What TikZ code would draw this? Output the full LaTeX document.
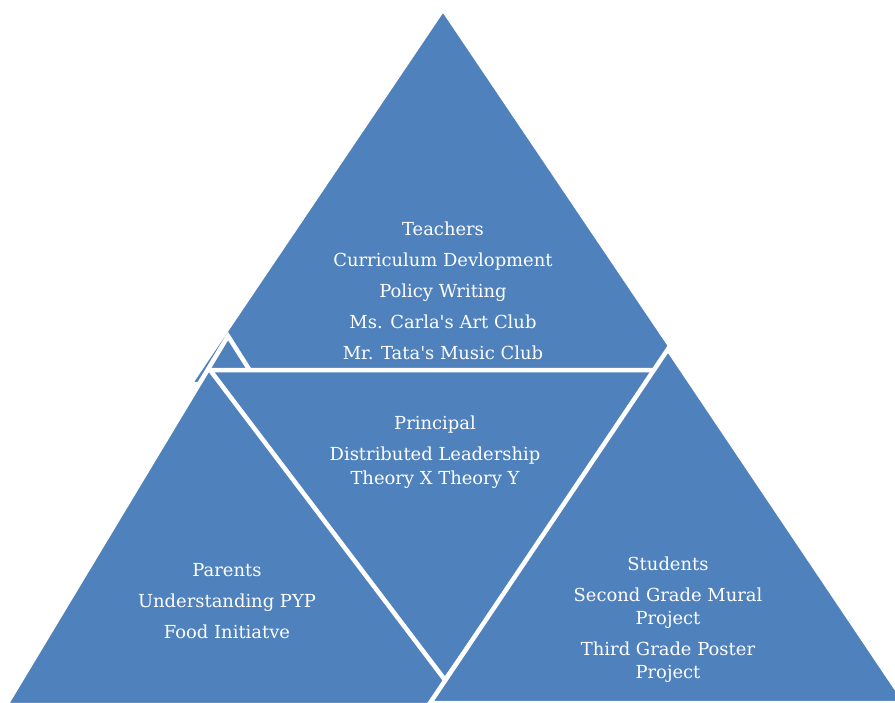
\documentclass[tikz,border=0pt]{standalone}
\usepackage{fontspec}
\setmainfont{DejaVu Serif}
\definecolor{pyrblue}{HTML}{4F81BD}
\tikzset{
  seg/.style={fill=pyrblue, draw=white, line width=4.5bp, line join=miter},
  lbl/.style={text=white, anchor=base, inner sep=0pt, font=\fontsize{18}{21}\selectfont}
}
\begin{document}
\begin{tikzpicture}[x=1bp,y=-1bp]
  \useasboundingbox (0,0) rectangle (895,703);
  \clip (0,0) rectangle (895,703);
  % corners of the four segments
  \coordinate (top) at (443,9);
  \coordinate (topl) at (190,384);
  \coordinate (topr) at (696,384);
  \coordinate (left) at (228,336);
  \coordinate (leftl) at (6,705);
  \coordinate (leftr) at (462,705);
  \coordinate (mid) at (445,680);
  \coordinate (midl) at (210,370);
  \coordinate (midr) at (660,370);
  \coordinate (right) at (668,349);
  \coordinate (rightl) at (430,703);
  \coordinate (rightr) at (906,703);
  % segments
  \draw[seg] (top) -- (topr) -- (topl) -- cycle;
  \draw[seg] (left) -- (leftr) -- (leftl) -- cycle;
  \draw[seg] (midl) -- (midr) -- (mid) -- cycle;
  \draw[seg] (right) -- (rightr) -- (rightl) -- cycle;
  % labels
  \begin{scope}[every node/.style={lbl}]
    \path
      (443,235) node (t1){Teachers}
      (443,266) node (t2){Curriculum Devlopment}
      (443,297) node (t3){Policy Writing}
      (443,328) node (t4){Ms. Carla\textquotesingle s Art Club}
      (443,359) node (t5){Mr. Tata\textquotesingle s Music Club};
    \path
      (435,429) node (c1){Principal}
      (435,460) node (c2){Distributed Leadership}
      (435,484) node (c3){Theory X Theory Y};
    \path
      (227,576) node (l1){Parents}
      (227,607) node (l2){Understanding PYP}
      (227,638) node (l3){Food Initiatve};
    \path
      (668,570) node (r1){Students}
      (668,601) node (r2){Second Grade Mural}
      (668,624) node (r3){Project}
      (668,655) node (r4){Third Grade Poster}
      (668,678) node (r5){Project};
  \end{scope}
\end{tikzpicture}
\end{document}
